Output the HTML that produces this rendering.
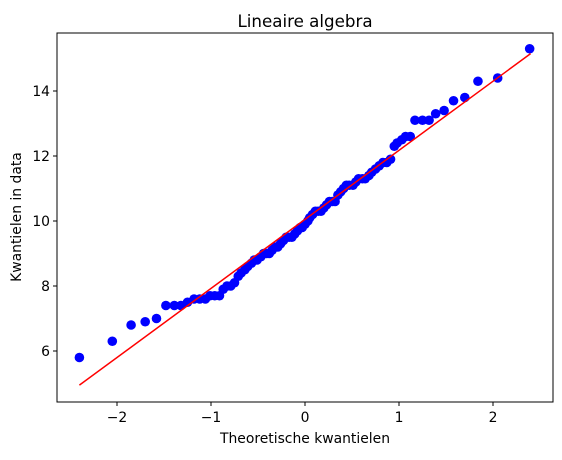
<!DOCTYPE html>
<html><head><meta charset="utf-8"><style>
body{margin:0;background:#fff;}
svg text{font-family:"DejaVu Sans","Liberation Sans",sans-serif;fill:#000;}
</style></head><body>
<svg id="chart" width="562" height="455" viewBox="0 0 562 455">
<rect width="562" height="455" fill="#fff"/>
<g id="plot"></g>
<rect x="57" y="33" width="496" height="369" fill="none" stroke="#000" stroke-width="1"/>
<text x="305" y="27" font-size="16.7" text-anchor="middle">Lineaire algebra</text>
<text x="305" y="443" font-size="13.9" text-anchor="middle">Theoretische kwantielen</text>
<text x="21" y="217" font-size="13.9" text-anchor="middle" transform="rotate(-90 21 217)">Kwantielen in data</text>
<g id="axes"></g>
</svg>
<script>
const xTicks=[-2,-1,0,1,2];
const xTickLabels=["−2","−1","0","1","2"];
const yTicks=[6,8,10,12,14];
const yTickLabels=["6","8","10","12","14"];
const theoQ=[-2.40,-2.05,-1.85,-1.70,-1.58,-1.48,-1.39,-1.32,-1.25,-1.18,-1.12,-1.06,-1.01,-0.96,-0.91,-0.87,-0.83,-0.79,-0.75,-0.71,-0.68,-0.64,-0.61,-0.57,-0.54,-0.51,-0.47,-0.44,-0.41,-0.38,-0.35,-0.32,-0.29,-0.26,-0.23,-0.20,-0.17,-0.14,-0.11,-0.08,-0.05,-0.03,0.00,0.03,0.05,0.08,0.11,0.14,0.17,0.20,0.23,0.26,0.29,0.32,0.35,0.38,0.41,0.44,0.47,0.51,0.54,0.57,0.61,0.64,0.68,0.71,0.75,0.79,0.83,0.87,0.91,0.95,0.98,1.03,1.07,1.12,1.17,1.25,1.32,1.39,1.48,1.58,1.70,1.84,2.05,2.39];
const sampleQ=[5.8,6.3,6.8,6.9,7.0,7.4,7.4,7.4,7.5,7.6,7.6,7.6,7.7,7.7,7.7,7.9,8.0,8.0,8.1,8.3,8.4,8.5,8.6,8.7,8.8,8.8,8.9,9.0,9.0,9.0,9.1,9.2,9.2,9.3,9.4,9.5,9.5,9.5,9.6,9.7,9.8,9.8,9.9,10.0,10.1,10.2,10.3,10.3,10.3,10.4,10.5,10.6,10.6,10.6,10.8,10.9,11.0,11.1,11.1,11.1,11.2,11.3,11.3,11.3,11.4,11.5,11.6,11.7,11.8,11.8,11.9,12.3,12.4,12.5,12.6,12.6,13.1,13.1,13.1,13.3,13.4,13.7,13.8,14.3,14.4,15.3];
const lineX=[-2.40,2.40];
const lineY=[4.95,15.15];
const X=v=>305+v*94;
const Y=v=>221-(v-10)*32.5;
const NS="http://www.w3.org/2000/svg";
const plot=document.getElementById('plot'), axes=document.getElementById('axes');
for(let i=0;i<theoQ.length;i++){
 const c=document.createElementNS(NS,'circle');
 c.setAttribute('cx',X(theoQ[i]));c.setAttribute('cy',Y(sampleQ[i]));c.setAttribute('r',4.8);c.setAttribute('fill','#0000ff');
 
 
 plot.appendChild(c);
}
const ln=document.createElementNS(NS,'line');
ln.setAttribute('x1',X(lineX[0]));ln.setAttribute('y1',Y(lineY[0]));ln.setAttribute('x2',X(lineX[1]));ln.setAttribute('y2',Y(lineY[1]));
ln.setAttribute('stroke','#ff0000');ln.setAttribute('stroke-width',1.5);


plot.appendChild(ln);
xTicks.forEach((t,i)=>{
 const l=document.createElementNS(NS,'line');
 l.setAttribute('x1',X(t));l.setAttribute('x2',X(t));l.setAttribute('y1',402);l.setAttribute('y2',406);l.setAttribute('stroke','#000');
 
 
 axes.appendChild(l);
 const tx=document.createElementNS(NS,'text');
 tx.setAttribute('x',X(t));tx.setAttribute('y',422);tx.setAttribute('font-size','13.9');tx.setAttribute('text-anchor','middle');tx.textContent=xTickLabels[i];
 
 
 axes.appendChild(tx);
});
yTicks.forEach((t,i)=>{
 const l=document.createElementNS(NS,'line');
 l.setAttribute('x1',53);l.setAttribute('x2',57);l.setAttribute('y1',Y(t));l.setAttribute('y2',Y(t));l.setAttribute('stroke','#000');
 
 
 axes.appendChild(l);
 const tx=document.createElementNS(NS,'text');
 tx.setAttribute('x',50);tx.setAttribute('y',Y(t)+5);tx.setAttribute('font-size','13.9');tx.setAttribute('text-anchor','end');tx.textContent=yTickLabels[i];
 
 
 axes.appendChild(tx);
});
</script>
</body></html>
